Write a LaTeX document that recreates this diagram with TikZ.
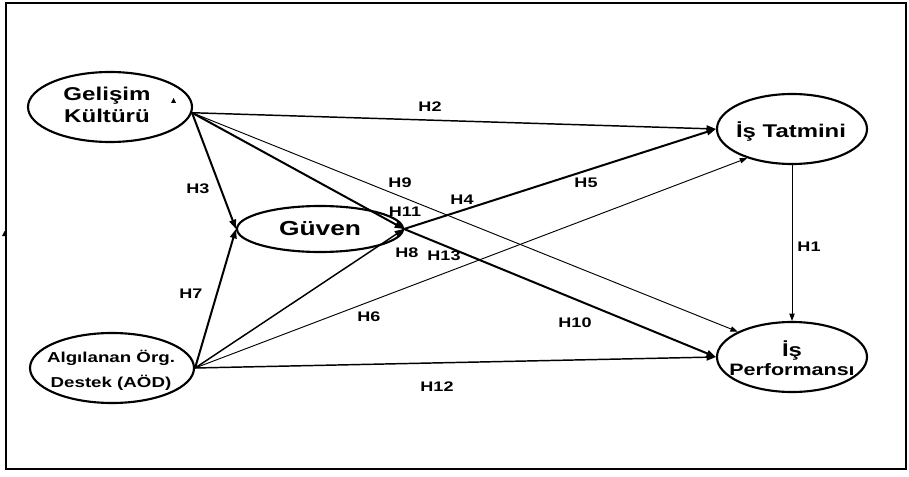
\documentclass[tikz,border=0pt]{standalone}
\usepackage{fontspec}
\setmainfont{Liberation Sans}[FakeStretch=1.3]
\usetikzlibrary{shapes.geometric,arrows.meta}
\tikzset{
  latent/.style={ellipse, draw, line width=1.6pt, inner sep=0pt},
  txt/.style={align=center, inner sep=0pt},
  hyp/.style={font=\bfseries\fontsize{10.4}{12}\selectfont, inner sep=0pt},
  kalin/.style={line width=1.5pt, -{Triangle[length=7pt,width=5pt]}},
  orta/.style={line width=1.1pt, -{Triangle[length=7pt,width=5pt]}},
  ince/.style={line width=0.7pt, -{Triangle[length=5.5pt,width=4pt]}}
}

\begin{document}
\begin{tikzpicture}[x=0.75pt,y=-0.75pt]
\useasboundingbox (0,0) rectangle (909,477);
\draw [line width=1.5pt] (6,3) rectangle (906,469);

\node [latent, minimum width=123pt, minimum height=52.5pt] (gk) at (110,107) {};
\node [txt, font=\bfseries\fontsize{13.9}{16.5}\selectfont] (gkt) at (107,105) {Gelişim\\Kültürü};
\node [latent, minimum width=123pt, minimum height=52.5pt] (aod) at (112,368) {};
\node [txt, font=\bfseries\fontsize{10.8}{18.7}\selectfont] (aodt) at (111,370) {Algılanan Örg.\\Destek (AÖD)};
\node [latent, minimum width=124.5pt, minimum height=34.5pt, font=\bfseries\fontsize{15.2}{18}\selectfont] (guv) at (320,229) {Güven};
\node [latent, minimum width=112.5pt, minimum height=52.5pt] (it) at (792,129) {};
\node [txt, font=\bfseries\fontsize{13.8}{16}\selectfont] (itt) at (791,132) {İş Tatmini};
\node [latent, minimum width=112.5pt, minimum height=52.5pt] (ip) at (792,357) {};
\node [txt, font=\bfseries\fontsize{12.4}{14.3}\selectfont] (ipt) at (792,358) {{\fontsize{13.8}{14.3}\selectfont İş}\\Performansı};

\fill (171,103) -- (176,103) -- (173.5,98) -- cycle;
\fill (2,236) -- (7,236) -- (4.5,231) -- cycle;

\draw [orta] (gk.-4) -- (it.west);
\draw [kalin] (gk.-4) -- (guv.west);
\draw [kalin] (gk.-4) -- (guv.east);
\draw [ince] (gk.-4) -- (ip.155);
\draw [kalin] (guv.east) -- (it.west);
\draw [kalin] (guv.east) -- (ip.west);
\draw [kalin] (aod.east) -- (guv.west);
\draw [orta] (aod.east) -- (guv.east);
\draw [ince] (aod.east) -- (it.213);
\draw [orta] (aod.east) -- (ip.west);
\draw [ince] (it.south) -- (ip.north);

\node [hyp] (h1) at (809,247) {H1};
\node [hyp] (h2) at (430,107) {H2};
\node [hyp] (h3) at (198,189) {H3};
\node [hyp] (h4) at (462,200) {H4};
\node [hyp] (h5) at (586,183) {H5};
\node [hyp] (h6) at (369,317) {H6};
\node [hyp] (h7) at (191,294) {H7};
\node [hyp] (h8) at (407,253) {H8};
\node [hyp] (h9) at (400,183) {H9};
\node [hyp] (h10) at (575,323) {H10};
\node [hyp] (h11) at (405,212) {H11};
\node [hyp] (h12) at (437,387) {H12};
\node [hyp] (h13) at (444,256) {H13};
\end{tikzpicture}
\end{document}
